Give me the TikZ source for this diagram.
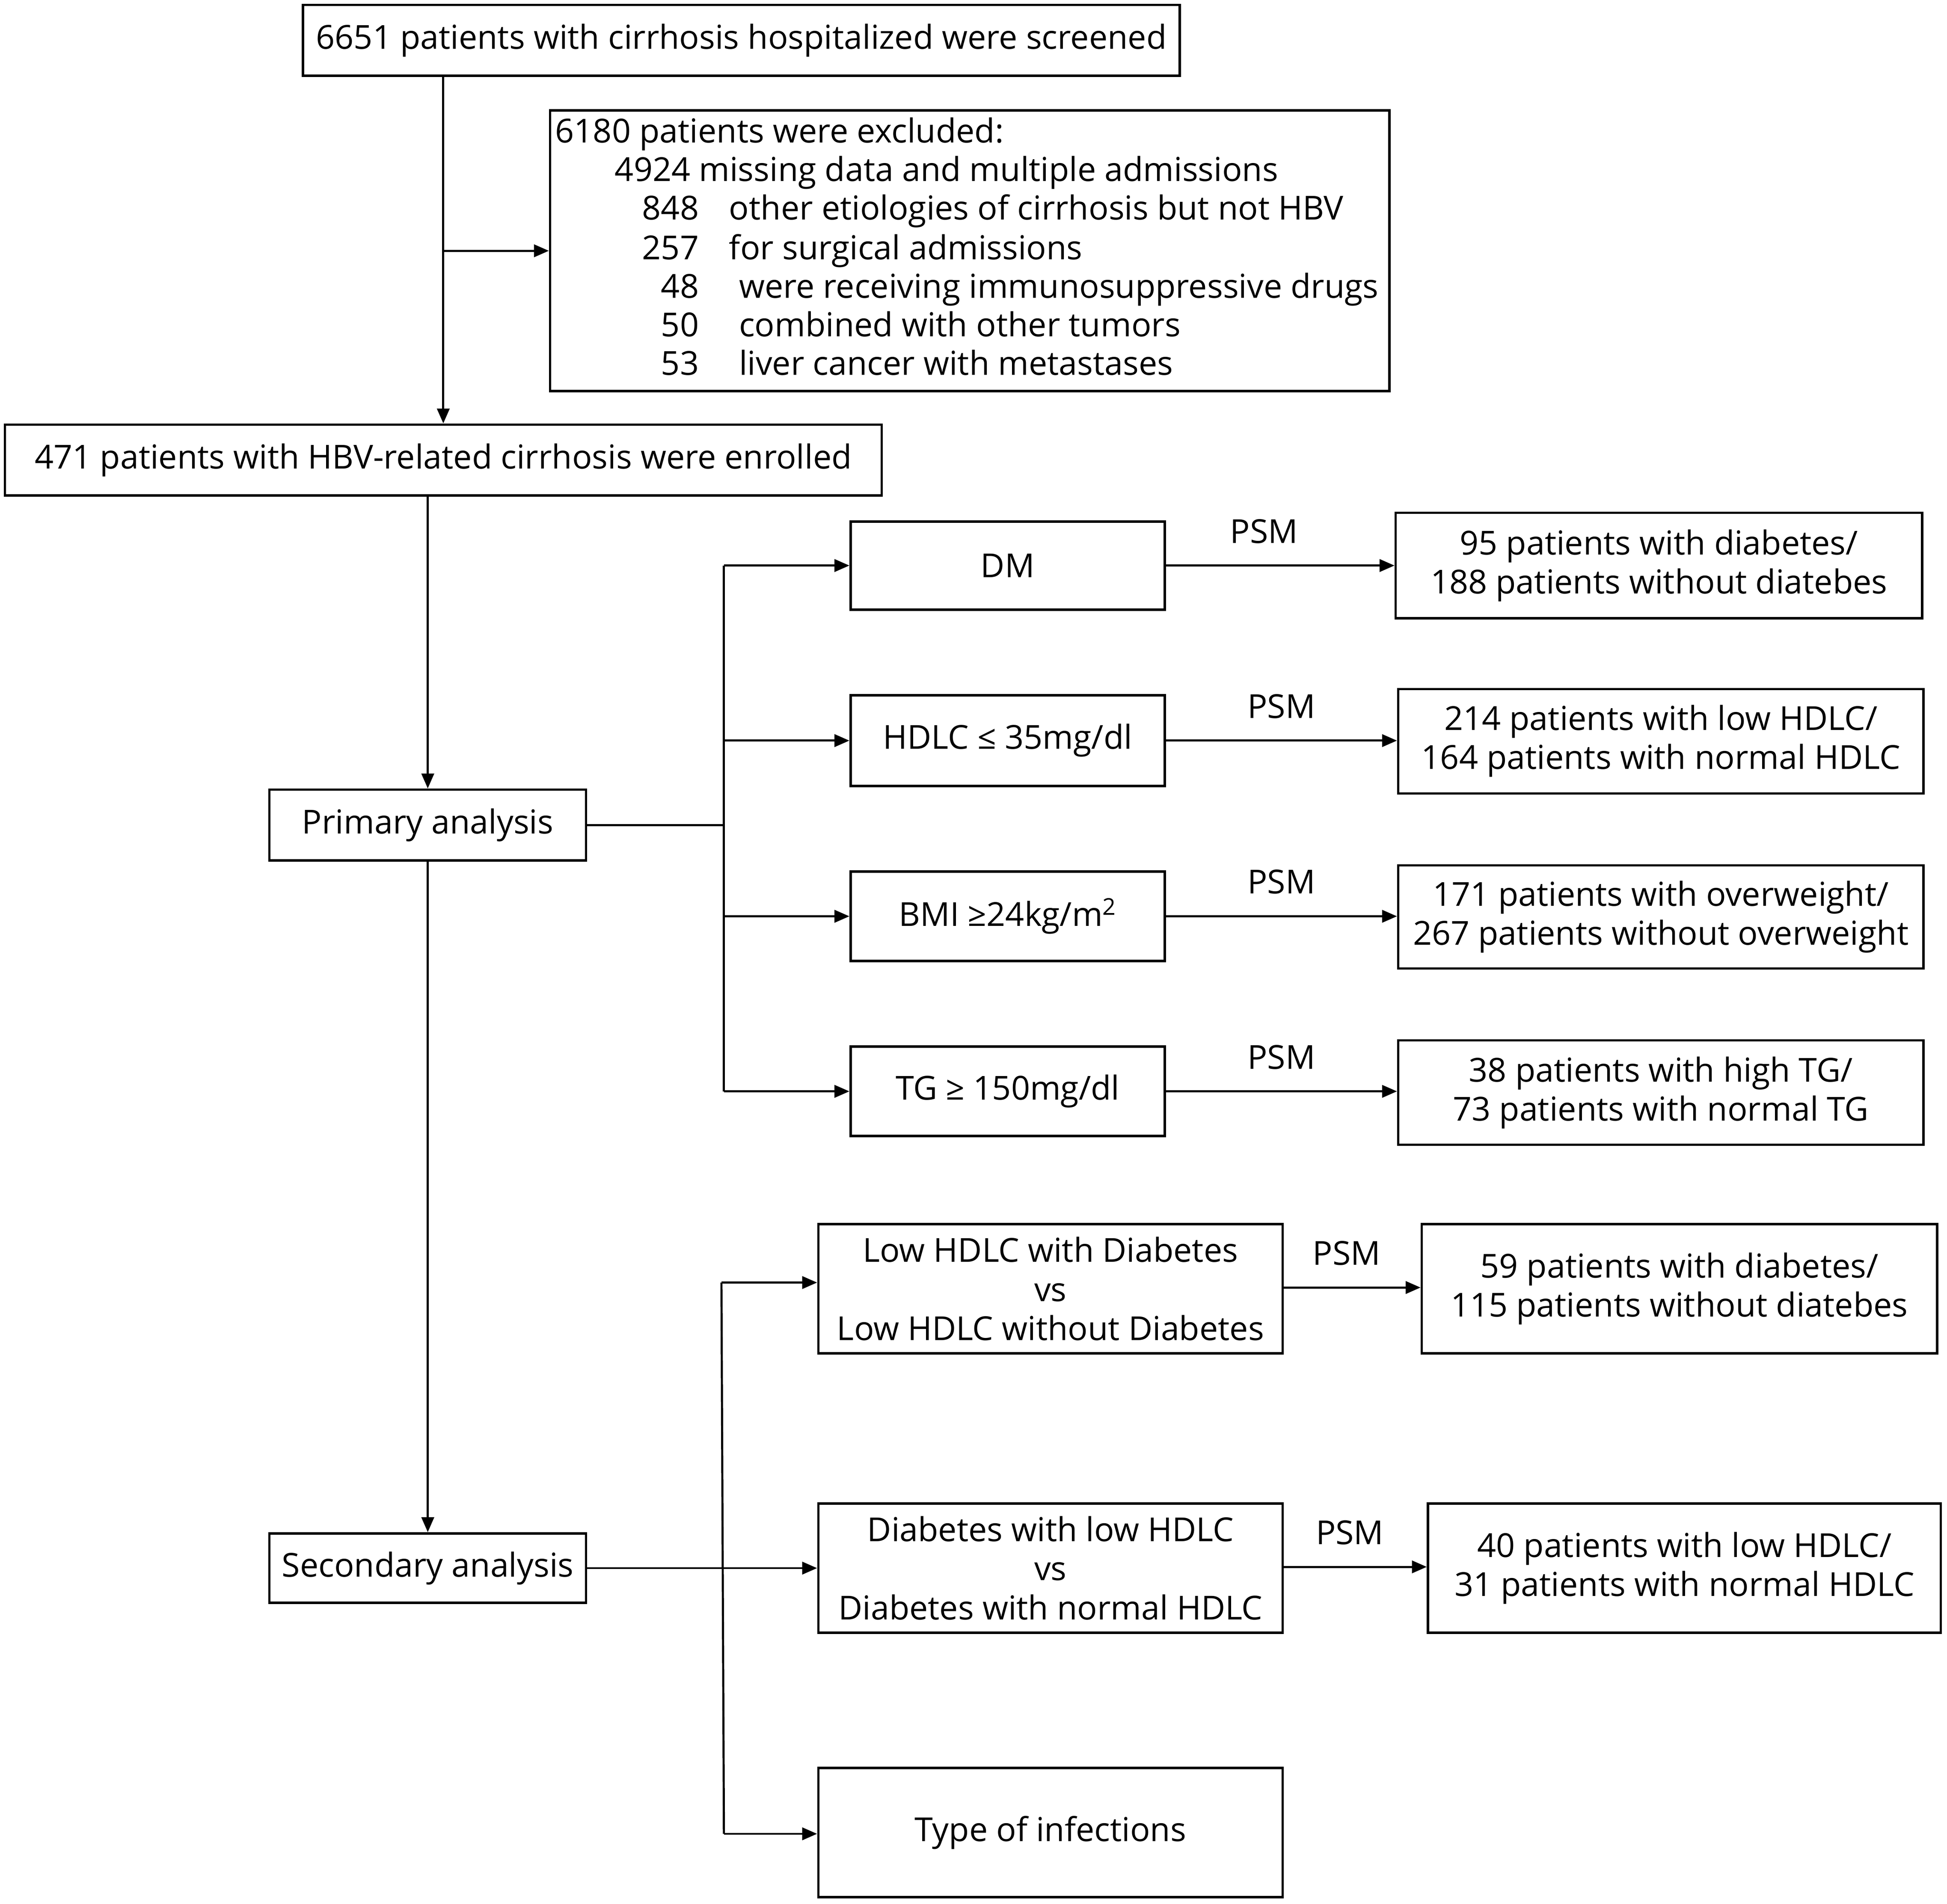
\documentclass[tikz,border=0pt]{standalone}
\usepackage{fontspec}
\setmainfont{Open Sans}
\usetikzlibrary{arrows.meta}
\begin{document}
\begin{tikzpicture}[x=1bp,y=-1bp,
  box/.style={draw, line width=1.9bp, inner sep=0pt, align=center,
    font=\fontsize{26.7}{31.5}\selectfont},
  txt/.style={inner sep=0pt, font=\fontsize{26.7}{31.5}\selectfont},
  psm/.style={inner sep=0pt, font=\fontsize{26.7}{30}\selectfont},
  arr/.style={line width=1.7bp, -{Triangle[length=12bp,width=10bp]}},
  ln/.style={line width=1.7bp}]
\useasboundingbox (0,0) rectangle (1568,1533.5);
\fill[white] (0,0) rectangle (1568,1533.5);

% top boxes
\node[box, minimum width=706bp, minimum height=57bp] (b1) at (597,32.5)
  {6651 patients with cirrhosis hospitalized were screened};
\node[box, minimum width=676bp, minimum height=226bp] (excl) at (781,202) {};
\node[txt, anchor=base west] (e0) at (447,115) {6180 patients were excluded:};
\node[txt, anchor=base west] (e1) at (495,146) {4924 missing data and multiple admissions};
\node[txt, anchor=base east] (n2) at (563,177) {848};
\node[txt, anchor=base west] (t2) at (587,177) {other etiologies of cirrhosis but not HBV};
\node[txt, anchor=base east] (n3) at (563,209) {257};
\node[txt, anchor=base west] (t3) at (587,209) {for surgical admissions};
\node[txt, anchor=base east] (n4) at (563,240) {48};
\node[txt, anchor=base west] (t4) at (595,240) {were receiving immunosuppressive drugs};
\node[txt, anchor=base east] (n5) at (563,271) {50};
\node[txt, anchor=base west] (t5) at (595,271) {combined with other tumors};
\node[txt, anchor=base east] (n6) at (563,302) {53};
\node[txt, anchor=base west] (t6) at (595,302) {liver cancer with metastases};

\node[box, minimum width=706bp, minimum height=57bp] (enr) at (357,370.5)
  {471 patients with HBV-related cirrhosis were enrolled};

\node[box, minimum width=255bp, minimum height=57bp] (prim) at (344.5,664.5) {Primary analysis};
\node[box, minimum width=255bp, minimum height=56bp] (sec) at (344.5,1263) {Secondary analysis};

% primary branches
\node[box, minimum width=253bp, minimum height=71bp] (dm) at (811.5,455.5) {DM};
\node[box, minimum width=253bp, minimum height=73bp] (hd) at (811.5,596.5) {HDLC ≤ 35mg/dl};
\node[box, minimum width=253bp, minimum height=72bp] (bmi) at (811.5,738) {BMI ≥24kg/m\textsuperscript{2}};
\node[box, minimum width=253bp, minimum height=72bp] (tg) at (811.5,879) {TG ≥ 150mg/dl};

\node[box, minimum width=424bp, minimum height=85bp] (rdm) at (1336,455.5)
  {95 patients with diabetes/\\188 patients without diatebes};
\node[box, minimum width=423bp, minimum height=84bp] (rhd) at (1337.5,597)
  {214 patients with low HDLC/\\164 patients with normal HDLC};
\node[box, minimum width=423bp, minimum height=83bp] (rbmi) at (1337.5,738.5)
  {171 patients with overweight/\\267 patients without overweight};
\node[box, minimum width=423bp, minimum height=84bp] (rtg) at (1337.5,880)
  {38 patients with high TG/\\73 patients with normal TG};

% secondary branches
\node[box, minimum width=374bp, minimum height=104bp] (s1) at (846,1038)
  {Low HDLC with Diabetes\\vs\\Low HDLC without Diabetes};
\node[box, minimum width=374bp, minimum height=104bp] (s2) at (846,1263)
  {Diabetes with low HDLC\\vs\\Diabetes with normal HDLC};
\node[box, minimum width=374bp, minimum height=104bp] (s3) at (846,1476) {Type of infections};

\node[box, minimum width=415bp, minimum height=104bp] (rs1) at (1352.5,1038)
  {59 patients with diabetes/\\115 patients without diatebes};
\node[box, minimum width=413bp, minimum height=104bp] (rs2) at (1356.5,1263)
  {40 patients with low HDLC/\\31 patients with normal HDLC};

% top connectors
\draw[arr] (b1.south -| enr.north) -- (enr.north);
\coordinate (j1) at (enr.north |- excl.west);
\draw[arr] (j1) -- (excl.west);
\draw[arr] (enr.south -| prim.north) -- (prim.north);
\draw[arr] (prim.south) -- (sec.north);

% primary bus
\coordinate (p0) at (583,664.5);
\coordinate (pt) at (583,455.5);
\coordinate (pb) at (583,879);
\draw[ln] (prim.east) -- (p0);
\draw[ln] (pt) -- (pb);
\draw[arr] (pt) -- (dm.west);
\draw[arr] (pt |- hd.west) -- (hd.west);
\draw[arr] (pt |- bmi.west) -- (bmi.west);
\draw[arr] (pb) -- (tg.west);

\draw[arr] (dm.east) -- (dm.east -| rdm.west) node[psm, midway, above=17bp, xshift=-13bp] (l1) {PSM};
\draw[arr] (hd.east) -- (hd.east -| rhd.west) node[psm, midway, above=17bp] (l2) {PSM};
\draw[arr] (bmi.east) -- (bmi.east -| rbmi.west) node[psm, midway, above=17bp] (l3) {PSM};
\draw[arr] (tg.east) -- (tg.east -| rtg.west) node[psm, midway, above=17bp] (l4) {PSM};

% secondary bus
\coordinate (qt) at (581,1033);
\coordinate (qb) at (583,1477);
\draw[ln] (qt) -- (qb);
\draw[arr] (qt) -- (qt -| s1.west);
\draw[arr] (sec.east) -- (s2.west);
\draw[arr] (qb) -- (qb -| s3.west);

\coordinate (a1) at (1033,1037);
\coordinate (a2) at (1033,1262);
\draw[arr] (a1) -- (a1 -| rs1.west) node[psm, midway, above=17bp, xshift=-4bp] (l5) {PSM};
\draw[arr] (a2) -- (a2 -| rs2.west) node[psm, midway, above=17bp, xshift=-4bp] (l6) {PSM};
\end{tikzpicture}
\end{document}
